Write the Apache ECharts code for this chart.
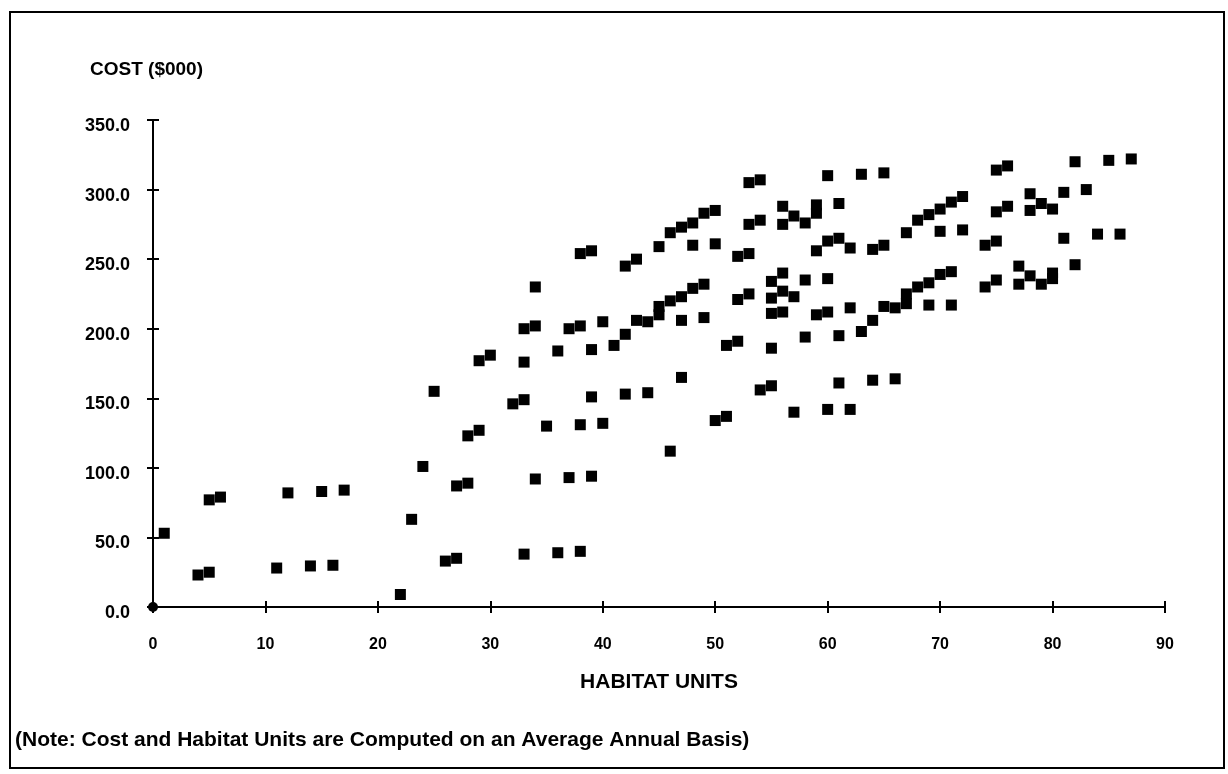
<!DOCTYPE html>
<html>
<head>
<meta charset="utf-8">
<title>Cost vs Habitat Units</title>
<script src="https://cdn.jsdelivr.net/npm/echarts@6/dist/echarts.min.js"></script>
<style>
  html, body { margin: 0; padding: 0; background: #fff; }
  #chart { width: 1228px; height: 774px; }
</style>
</head>
<body>
<div id="chart"></div>
<script>
// habitat units (x) and cost in $000 (y)
const habitatUnits = [
  1, 4, 5, 5, 6, 11, 12, 14, 15, 16, 17, 22, 23, 24, 25, 26, 27, 27, 28, 28,
  29, 29, 30, 32, 33, 33, 33, 33, 34, 34, 34, 35, 36, 36, 37, 37, 38, 38, 38, 38,
  39, 39, 39, 39, 40, 40, 41, 42, 42, 42, 43, 43, 44, 44, 45, 45, 45, 46, 46, 46,
  47, 47, 47, 47, 48, 48, 48, 49, 49, 49, 50, 50, 50, 51, 51, 52, 52, 52, 53, 53,
  53, 53, 54, 54, 54, 55, 55, 55, 55, 55, 56, 56, 56, 56, 56, 57, 57, 57, 58, 58,
  58, 59, 59, 59, 59, 60, 60, 60, 60, 60, 61, 61, 61, 61, 62, 62, 62, 63, 63,
  64, 64, 64, 65, 65, 65, 66, 66, 67, 67, 67, 68, 68, 69, 69, 69, 70, 70, 70, 71,
  71, 71, 72, 72, 74, 74, 75, 75, 75, 75, 76, 76, 77, 77, 78, 78, 78, 79, 79, 80,
  80, 80, 81, 81, 82, 82, 83, 84, 85, 86, 87
];
const costs = [
  53, 23, 25, 77, 79, 28, 82, 29.5, 83, 30, 84, 9, 63, 101, 155, 33, 35, 87, 89, 123,
  127, 177, 181, 146, 38, 149, 176, 200, 92, 202, 230, 130, 39, 184, 93, 200, 40, 131, 202, 254,
  94, 151, 185, 256, 132, 205, 188, 153, 196, 245, 206, 250, 154, 205, 210, 216, 259, 112, 220, 269,
  165, 206, 223, 273, 229, 260, 276, 208, 232, 283, 134, 261, 285, 137, 188, 191, 221, 252, 225, 254,
  275, 305, 156, 278, 307, 159, 186, 211, 222, 234, 212, 227, 240, 275, 288, 140, 223, 281, 194, 235,
  276, 210, 256, 283, 289, 142, 212, 236, 263, 310, 161, 195, 265, 290, 142, 215, 258, 198, 311,
  163, 206, 257, 216, 260, 312, 164, 215, 218, 225, 269, 230, 278, 217, 233, 282, 239, 270, 286, 217,
  241, 291, 271, 295, 230, 260, 235, 263, 284, 314, 288, 317, 232, 245, 238, 285, 297, 232, 290, 240,
  236, 286, 265, 298, 246, 320, 300, 268, 321, 268, 322
];
const originPoint = [[0, 0]];
const xTicks = ['0', '10', '20', '30', '40', '50', '60', '70', '80', '90'];
const yTicks = ['0.0', '50.0', '100.0', '150.0', '200.0', '250.0', '300.0', '350.0'];

const points = habitatUnits.map((x, i) => [x, costs[i]]);

const chart = echarts.init(document.getElementById('chart'));

const fontFamily = 'Liberation Sans, Arial, sans-serif';
const axisLine = { show: true, lineStyle: { color: '#000', width: 2 } };

chart.setOption({
  animation: false,
  grid: { left: 153, right: 63, top: 120, bottom: 167 },
  xAxis: [{
    type: 'value', min: 0, max: 90, interval: 10,
    axisLine: axisLine,
    axisTick: { show: true, length: 6, lineStyle: { color: '#000', width: 2 } },
    axisLabel: {
      margin: 30, color: '#000', fontFamily: fontFamily, fontWeight: 'bold', fontSize: 16,
      formatter: v => xTicks[v / 10]
    },
    splitLine: { show: false },
    name: 'HABITAT UNITS',
    nameLocation: 'middle',
    nameGap: 65,
    nameTextStyle: { color: '#000', fontFamily: fontFamily, fontWeight: 'bold', fontSize: 21 }
  }, {
    // second copy only for the upper half of the crossing ticks
    type: 'value', min: 0, max: 90, interval: 10, position: 'bottom',
    axisLine: { show: false },
    axisTick: { show: true, inside: true, length: 6, lineStyle: { color: '#000', width: 2 } },
    axisLabel: { show: false },
    splitLine: { show: false }
  }],
  yAxis: [{
    type: 'value', min: 0, max: 350, interval: 50,
    axisLine: axisLine,
    axisTick: { show: true, length: 6, lineStyle: { color: '#000', width: 2 } },
    axisLabel: {
      margin: 23, color: '#000', fontFamily: fontFamily, fontWeight: 'bold', fontSize: 18,
      verticalAlign: 'top', lineHeight: 12,
      formatter: v => yTicks[v / 50]
    },
    splitLine: { show: false }
  }, {
    type: 'value', min: 0, max: 350, interval: 50, position: 'left',
    axisLine: { show: false },
    axisTick: { show: true, inside: true, length: 6, lineStyle: { color: '#000', width: 2 } },
    axisLabel: { show: false },
    splitLine: { show: false }
  }],
  graphic: [{
    type: 'rect',
    shape: { x: 10, y: 12, width: 1214, height: 756 },
    style: { fill: 'none', stroke: '#000', lineWidth: 2 },
    silent: true
  }, {
    type: 'text', left: 90, top: 60,
    style: { text: 'COST ($000)', fill: '#000', font: 'bold 19px "Liberation Sans", Arial, sans-serif' }
  }, {
    type: 'text', left: 15, top: 730,
    style: { text: '(Note: Cost and Habitat Units are Computed on an Average Annual Basis)', fill: '#000', font: 'bold 21px "Liberation Sans", Arial, sans-serif' }
  }],
  series: [{
    name: 'cost',
    type: 'scatter',
    symbol: 'rect',
    symbolSize: 11,
    itemStyle: { color: '#000', opacity: 1 },
    data: points
  }, {
    name: 'origin',
    type: 'scatter',
    symbol: 'circle',
    symbolSize: 10,
    itemStyle: { color: '#000', opacity: 1 },
    data: originPoint
  }]
});
</script>
</body>
</html>
